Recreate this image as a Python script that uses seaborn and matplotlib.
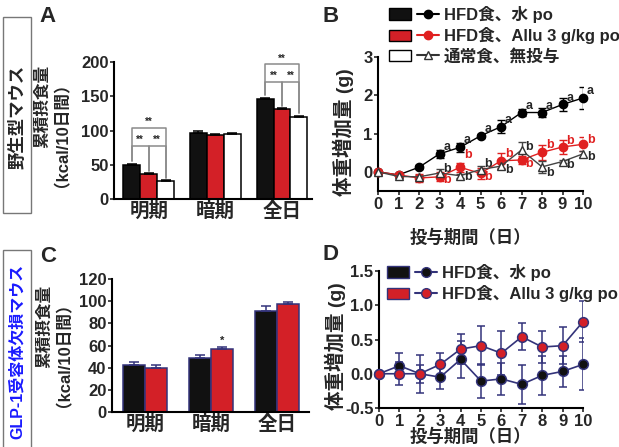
import numpy as np
import pandas as pd
import seaborn as sns
import matplotlib.pyplot as plt
from matplotlib.patches import Patch, Rectangle
from matplotlib.lines import Line2D
from matplotlib.legend_handler import HandlerTuple

sns.set_theme(style="ticks")
plt.rcParams['font.family'] = ['Liberation Sans', 'Noto Sans CJK JP']
plt.rcParams['font.weight'] = 'bold'

# Data
periods = ['明期', '暗期', '全日']
groups_ab = ['HFD食、水 po', 'HFD食、Allu 3 g/kg po', '通常食、無投与']
groups_cd = ['HFD食、水 po', 'HFD食、Allu 3 g/kg po']

a_water = [49.5, 96.5, 146]
a_allu = [36.5, 93.5, 131]
a_normal = [26, 94.5, 120]
a_water_err = [1.5, 2.5, 1.5]
a_allu_err = [1.5, 1.5, 1.5]
a_normal_err = [1.2, 1.2, 1.2]

c_water = [42.5, 48.5, 91]
c_allu = [40, 57, 97.5]
c_water_err = [2.8, 2.7, 4.8]
c_allu_err = [2.2, 1.4, 1.8]

days = list(range(11))
b_water = [0, -0.08, 0.12, 0.47, 0.64, 0.94, 1.18, 1.55, 1.55, 1.76, 1.93]
b_water_err = [0, 0.05, 0.05, 0.1, 0.12, 0.06, 0.17, 0.1, 0.13, 0.17, 0.28]
b_allu = [0, -0.08, -0.16, -0.13, 0.12, -0.04, 0.29, 0.31, 0.51, 0.65, 0.72]
b_allu_err = [0, 0.03, 0.1, 0.12, 0.12, 0.14, 0.2, 0.1, 0.2, 0.18, 0.18]
b_normal = [0, -0.12, -0.13, -0.03, -0.1, 0.06, 0.15, 0.57, 0.13, 0.27, 0.47]
b_normal_err = [0, 0.04, 0.04, 0.1, 0.05, 0.08, 0.08, 0.22, 0.15, 0.05, 0.07]
b_letter_allu_y = [None, None, None, -0.21, 0.45, -0.13, 0.47, 0.21, 0.7, 0.8, 0.82]
b_letter_normal_y = [None, None, None, 0.08, -0.13, 0.21, 0.06, 0.64, -0.03, 0.17, 0.38]

d_water = [0, 0.117, 0, -0.05, 0.21, -0.107, -0.075, -0.155, -0.024, 0.034, 0.136]
d_water_err = [0, 0.18, 0.28, 0.17, 0.27, 0.25, 0.23, 0.28, 0.29, 0.23, 0.38]
d_allu = [0, 0, 0, 0.136, 0.36, 0.41, 0.30, 0.54, 0.39, 0.41, 0.76]
d_allu_err = [0, 0.17, 0.13, 0.17, 0.22, 0.28, 0.32, 0.2, 0.23, 0.27, 0.3]

BLACK = '#111111'
RED = '#d32027'
NAVY = '#33337a'
GRAY = '#8a8a8a'

W, H = 619, 447
fig = plt.figure(figsize=(W / 100, H / 100), dpi=100)


def axes_px(l, t, r, b):
    return fig.add_axes([l / W, 1 - b / H, (r - l) / W, (b - t) / H])


def fx(x):
    return x / W


def fy(y):
    return 1 - y / H


def style_axes(ax):
    sns.despine(ax=ax)
    for s in ['left', 'bottom']:
        ax.spines[s].set_linewidth(1.5)
        ax.spines[s].set_color('black')
    ax.tick_params(width=1.2, length=3, pad=1, labelsize=12)


def bar_panel(ax, groups, values, errs, colors, edge, width, ylim, yticks):
    df = pd.DataFrame({
        'period': periods * len(groups),
        'group': [g for g in groups for _ in periods],
        'value': sum(values, []),
    })
    sns.barplot(data=df, x='period', y='value', hue='group', hue_order=groups,
                palette=colors, edgecolor=edge, linewidth=1.1, errorbar=None,
                width=width, saturation=1, legend=False, ax=ax)
    for cont, err in zip(ax.containers, errs):
        xs = [p.get_x() + p.get_width() / 2 for p in cont]
        hs = [p.get_height() for p in cont]
        ax.errorbar(xs, hs, yerr=[np.zeros(len(err)), err], fmt='none',
                    ecolor=edge, elinewidth=1.1, capsize=3.5, capthick=1.1)
    ax.set_ylim(*ylim)
    ax.set_yticks(yticks)
    ax.set_xlabel('')
    ax.set_ylabel('')
    style_axes(ax)
    ax.tick_params(axis='x', length=0, labelsize=14, pad=2)


# Panel A
axA = axes_px(114, 62, 312, 199)
bar_panel(axA, groups_ab, [a_water, a_allu, a_normal],
          [a_water_err, a_allu_err, a_normal_err],
          [BLACK, RED, 'white'], 'black', 0.76, (0, 200), [0, 50, 100, 150, 200])
axA.set_xlim(-0.52, 2.45)

off = 0.76 / 3


def bracket(ax, x1, x2, y, yb1, yb2):
    ax.plot([x1, x1, x2, x2], [yb1, y, y, yb2], color=GRAY, lw=1.1, clip_on=False)
    ax.text((x1 + x2) / 2, y + 1, '**', ha='center', va='bottom', fontsize=7)


for i, (top, inner) in zip([0, 2], [(104, 78), (197, 171)]):
    hb = a_water[i] + 6
    hr = a_allu[i] + 5
    hw = a_normal[i] + 5
    bracket(axA, i - off, i + off, top, hb, hw)
    bracket(axA, i - off, i, inner, hb, hr)
    bracket(axA, i, i + off, inner, hr, hw)

# Panel C
axC = axes_px(112, 279, 309, 412)
bar_panel(axC, groups_cd, [c_water, c_allu], [c_water_err, c_allu_err],
          [BLACK, RED], NAVY, 0.67, (0, 120), [0, 20, 40, 60, 80, 100, 120])
axC.set_xlim(-0.5, 2.48)
axC.text(1 + 0.67 / 4, c_allu[1] + c_allu_err[1] + 1.5, '*', ha='center',
         va='bottom', fontsize=8)

# Panel B
axB = axes_px(378, 57, 583, 191)
b_styles = [
    (b_water, b_water_err, 'black', 'o', 'black', 'black'),
    (b_allu, b_allu_err, '#e02020', 'o', '#e02020', '#e02020'),
    (b_normal, b_normal_err, '#444444', '^', 'white', '#333333'),
]
for vals, err, c, m, fc, ec in b_styles:
    axB.errorbar(days, vals, yerr=err, fmt='none', ecolor=c, elinewidth=1,
                 capsize=3, capthick=1, zorder=2)
    sns.lineplot(x=days, y=vals, ax=axB, color=c, marker=m, markersize=6,
                 markerfacecolor=fc, markeredgecolor=ec, markeredgewidth=1,
                 linewidth=1, clip_on=False, zorder=3)
axB.set_xlim(0, 10)
axB.set_ylim(-0.5, 3)
axB.set_xticks(days)
axB.set_yticks([0, 1, 2, 3])
style_axes(axB)
for d in days[3:]:
    axB.text(d + 0.37, b_water[d] + 0.18, 'a', fontsize=9, ha='center',
             va='center', clip_on=False)
    axB.text(d + 0.37, b_letter_allu_y[d], 'b', fontsize=9, ha='center',
             va='center', color='#e02020', clip_on=False)
    axB.text(d + 0.37, b_letter_normal_y[d], 'b', fontsize=9, ha='center',
             va='center', clip_on=False)

# Panel D
axD = axes_px(379, 271, 583, 408)
for vals, err, fc in [(d_water, d_water_err, BLACK), (d_allu, d_allu_err, RED)]:
    axD.errorbar(days, vals, yerr=err, fmt='none', ecolor=NAVY, elinewidth=1.1,
                 capsize=3, capthick=1.1, zorder=2)
    sns.lineplot(x=days, y=vals, ax=axD, color=NAVY, marker='o', markersize=7,
                 markerfacecolor=fc, markeredgecolor=NAVY, markeredgewidth=1.1,
                 linewidth=1.2, clip_on=False, zorder=3)
axD.set_xlim(0, 10)
axD.set_ylim(-0.5, 1.5)
axD.set_xticks(days)
axD.set_yticks([-0.5, 0, 0.5, 1.0, 1.5])
axD.set_yticklabels(['-0.5', '0.0', '0.5', '1.0', '1.5'])
style_axes(axD)

# Legends
leg_kw = dict(loc='upper left', frameon=False, fontsize=12, handlelength=3.0,
              handletextpad=0.3, labelspacing=0.25, borderaxespad=0, borderpad=0,
              handler_map={tuple: HandlerTuple(ndivide=None, pad=0.4)})
leg_b = [
    (Patch(facecolor=BLACK, edgecolor='black'),
     Line2D([], [], color='black', marker='o', markersize=6)),
    (Patch(facecolor=RED, edgecolor='black'),
     Line2D([], [], color='#e02020', marker='o', markersize=6)),
    (Patch(facecolor='white', edgecolor='black'),
     Line2D([], [], color='#333333', marker='^', markersize=6,
            markerfacecolor='white')),
]
fig.legend(leg_b, groups_ab, bbox_to_anchor=(fx(389), fy(6)), **leg_kw)

leg_d = [
    (Patch(facecolor=BLACK, edgecolor=NAVY),
     Line2D([], [], color=NAVY, marker='o', markersize=7, markerfacecolor=BLACK)),
    (Patch(facecolor=RED, edgecolor=NAVY),
     Line2D([], [], color=NAVY, marker='o', markersize=7, markerfacecolor=RED)),
]
fig.legend(leg_d, groups_cd, bbox_to_anchor=(fx(387), fy(264)), **leg_kw)

# Axis labels
intake_label = '累積摂食量\n（kcal/10日間）'
fig.text(fx(48), fy(126), intake_label, rotation=90, ha='center', va='center',
         multialignment='right', linespacing=0.7, fontsize=12)
fig.text(fx(50), fy(346), intake_label, rotation=90, ha='center', va='center',
         multialignment='right', linespacing=0.7, fontsize=12)
fig.text(fx(343), fy(132), '体重増加量 (g)', rotation=90, ha='center', va='center', fontsize=14)
fig.text(fx(335), fy(346), '体重増加量 (g)', rotation=90, ha='center', va='center', fontsize=14)
fig.text(fx(470), fy(237), '投与期間（日）', ha='center', va='center', fontsize=12.5)
fig.text(fx(470), fy(436), '投与期間（日）', ha='center', va='center', fontsize=12.5)

# Panel letters
for x, y, s in [(48, 17, 'A'), (331, 17, 'B'), (48, 256, 'C'), (331, 255, 'D')]:
    fig.text(fx(x), fy(y), s, ha='center', va='center', fontsize=16)

# Side boxes
fig.add_artist(Rectangle((fx(3), fy(213)), fx(28), 196 / H, transform=fig.transFigure,
                         fill=False, edgecolor='#777777', lw=1))
fig.add_artist(Rectangle((fx(3), fy(452)), fx(28), 202 / H, transform=fig.transFigure,
                         fill=False, edgecolor='#777777', lw=1))
fig.text(fx(17), fy(117), '野生型マウス', rotation=90, ha='center', va='center', fontsize=12.5)
fig.text(fx(17), fy(351), 'GLP-1受容体欠損マウス', rotation=90, ha='center', va='center',
         fontsize=11.5, color='#1a1aff')

fig.savefig('out.png', dpi=100)
